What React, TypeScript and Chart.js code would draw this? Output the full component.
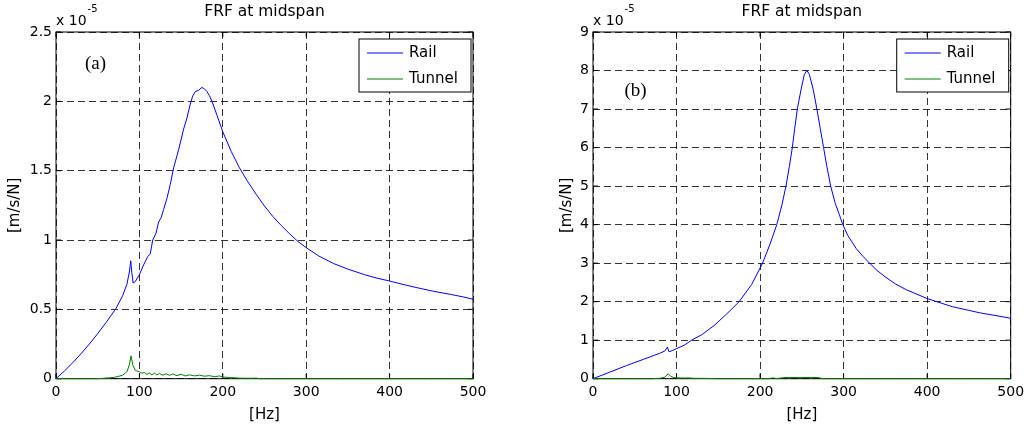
import React, { useEffect, useRef } from "react";
import { Chart, registerables } from "chart.js";
Chart.register(...registerables);

// ---------- data (values in units of 1e-5 m/s/N) ----------
const railAFreq = [0, 10, 20, 30, 40, 50, 60, 72, 80, 85, 88, 89.6, 91, 92.5, 95, 100, 105, 110, 113, 116, 120, 123, 126, 129, 133, 137, 141, 147, 153, 157, 161, 164, 167, 171, 175, 178, 181, 184, 187, 193, 200, 210, 220, 230, 240, 250, 260, 270, 280, 290, 300, 315, 333, 350, 370, 385, 400, 416, 433, 453, 473, 488, 500];
const railAVal = [0, 0.055, 0.115, 0.18, 0.25, 0.325, 0.405, 0.507, 0.6, 0.68, 0.77, 0.85, 0.76, 0.69, 0.70, 0.75, 0.82, 0.88, 0.90, 1.0, 1.05, 1.13, 1.16, 1.22, 1.30, 1.40, 1.52, 1.65, 1.80, 1.88, 1.98, 2.04, 2.07, 2.08, 2.10, 2.09, 2.07, 2.04, 2.0, 1.90, 1.78, 1.64, 1.52, 1.42, 1.33, 1.245, 1.17, 1.105, 1.045, 0.99, 0.945, 0.885, 0.83, 0.79, 0.75, 0.725, 0.704, 0.68, 0.656, 0.63, 0.608, 0.59, 0.573];

const tunnelAFreq = [0, 50, 60, 70, 80, 85, 88, 90, 92, 95, 100, 103, 106, 109, 112, 115, 118, 121, 124, 128, 132, 136, 140, 145, 150, 155, 160, 166, 172, 178, 184, 190, 196, 200, 210, 220, 230, 240, 245, 500];
const tunnelAVal = [0, 0, 0.004, 0.01, 0.025, 0.05, 0.1, 0.165, 0.1, 0.06, 0.05, 0.04, 0.045, 0.03, 0.042, 0.028, 0.04, 0.027, 0.038, 0.025, 0.036, 0.024, 0.034, 0.022, 0.032, 0.02, 0.028, 0.02, 0.026, 0.018, 0.022, 0.014, 0.02, 0.012, 0.008, 0.004, 0.003, 0.004, 0, 0];

const railBFreq = [0, 20, 40, 60, 80, 86, 89, 91, 95, 100, 110, 118, 130, 145, 160, 175, 190, 203, 212, 220, 226, 231, 235, 238.6, 241.5, 244.6, 249, 253, 256, 259, 263.7, 268, 272, 276, 280, 284.5, 290, 295, 299, 305, 315, 323, 331, 340, 350, 362, 375, 400, 430, 463, 500];
const railBVal = [0, 0.17, 0.34, 0.5, 0.66, 0.72, 0.82, 0.70, 0.73, 0.78, 0.88, 1.0, 1.14, 1.38, 1.68, 2.0, 2.45, 3.0, 3.5, 4.0, 4.5, 5.0, 5.5, 6.0, 6.5, 7.0, 7.5, 7.9, 8.0, 7.9, 7.5, 7.0, 6.5, 6.0, 5.5, 5.0, 4.55, 4.25, 4.0, 3.72, 3.38, 3.18, 3.0, 2.81, 2.64, 2.46, 2.31, 2.08, 1.87, 1.71, 1.57];

const tunnelBFreq = [0, 70, 80, 86, 90, 93, 97, 100, 105, 110, 115, 120, 130, 140, 150, 210, 215, 220, 230, 270, 275, 500];
const tunnelBVal = [0, 0, 0.01, 0.04, 0.13, 0.06, 0.03, 0.025, 0.02, 0.015, 0.02, 0.01, 0.01, 0.005, 0, 0, 0.02, 0.005, 0.03, 0.03, 0, 0];

const xTicks = [0, 100, 200, 300, 400, 500];
const yTicksA = [0, 0.5, 1, 1.5, 2, 2.5];
const yTicksB = [0, 1, 2, 3, 4, 5, 6, 7, 8, 9];
const seriesNames = ["Rail", "Tunnel"];
const seriesColors = ["#0000ff", "#008000"];
const titleText = "FRF at midspan";
const xLabelText = "[Hz]";
const yLabelText = "[m/s/N]";
const exponentBase = "x 10";
const exponentPow = "-5";
const panelLabels = ["(a)", "(b)"];

const FONT = "'DejaVu Sans', 'Liberation Sans', Arial, sans-serif";

const annotPlugin = {
  id: "annot",
  beforeDatasetsDraw(chart: any, _args: any, opts: any) {
    const { ctx, chartArea: a } = chart;
    const xs = chart.scales.x;
    const ys = chart.scales.y;
    ctx.save();
    ctx.strokeStyle = "#000";
    ctx.lineWidth = 1;
    ctx.strokeRect(a.left, a.top, a.right - a.left, a.bottom - a.top);
    ctx.beginPath();
    const tl = 5;
    xTicks.forEach((v) => {
      const p = xs.getPixelForValue(v);
      ctx.moveTo(p, a.bottom);
      ctx.lineTo(p, a.bottom - tl);
      ctx.moveTo(p, a.top);
      ctx.lineTo(p, a.top + tl);
    });
    (opts.yTicks as number[]).forEach((v) => {
      const p = ys.getPixelForValue(v);
      ctx.moveTo(a.left, p);
      ctx.lineTo(a.left + tl, p);
      ctx.moveTo(a.right, p);
      ctx.lineTo(a.right - tl, p);
    });
    ctx.stroke();
    ctx.restore();
  },
  afterDraw(chart: any, _args: any, opts: any) {
    const { ctx, chartArea: a } = chart;
    const cx = (a.left + a.right) / 2;
    ctx.save();
    ctx.fillStyle = "#000";
    // title
    ctx.font = `15.5px ${FONT}`;
    ctx.textAlign = "center";
    ctx.textBaseline = "middle";
    ctx.fillText(titleText, cx, a.top - 20);
    // exponent
    ctx.font = `14px ${FONT}`;
    ctx.textAlign = "left";
    ctx.textBaseline = "alphabetic";
    ctx.fillText(exponentBase, a.left, a.top - 7);
    const w = ctx.measureText(exponentBase).width;
    ctx.font = `10px ${FONT}`;
    ctx.fillText(exponentPow, a.left + w + 1, a.top - 20);
    // x label
    ctx.font = `15px ${FONT}`;
    ctx.textAlign = "center";
    ctx.textBaseline = "middle";
    ctx.fillText(xLabelText, cx, a.bottom + 36);
    // y label
    ctx.save();
    ctx.translate(opts.yLabelX, (a.top + a.bottom) / 2);
    ctx.rotate(-Math.PI / 2);
    ctx.fillText(yLabelText, 0, 0);
    ctx.restore();
    // panel label
    ctx.font = `19px 'Liberation Serif', 'Times New Roman', serif`;
    ctx.fillText(opts.panel, a.left + opts.panelDx, a.top + opts.panelDy);
    // legend
    const bw = 112, bh = 53;
    const bx = a.right - 2 - bw;
    const by = a.top + 7;
    ctx.fillStyle = "#fff";
    ctx.fillRect(bx, by, bw, bh);
    ctx.strokeStyle = "#000";
    ctx.lineWidth = 1;
    ctx.strokeRect(bx, by, bw, bh);
    ctx.font = `15px ${FONT}`;
    ctx.textAlign = "left";
    ctx.textBaseline = "middle";
    seriesNames.forEach((name, i) => {
      const yy = by + 14 + i * 26;
      ctx.strokeStyle = seriesColors[i];
      ctx.beginPath();
      ctx.moveTo(bx + 8, yy);
      ctx.lineTo(bx + 44, yy);
      ctx.stroke();
      ctx.fillStyle = "#000";
      ctx.fillText(name, bx + 50, yy);
    });
    ctx.restore();
  },
};

function toPoints(fs: number[], vs: number[]) {
  return fs.map((f, i) => ({ x: f, y: vs[i] }));
}

function makeConfig(p: {
  W: number; H: number; plotLeft: number; plotRight: number; plotTop: number; plotBottom: number;
  yMax: number; yTicks: number[]; rail: any[]; tunnel: any[]; panel: string; panelDx: number; panelDy: number; yLabelX: number;
}): any {
  return {
    type: "line",
    data: {
      datasets: [
        { label: seriesNames[1], data: p.tunnel, borderColor: seriesColors[1], borderWidth: 1, pointRadius: 0, tension: 0, clip: 2 },
        { label: seriesNames[0], data: p.rail, borderColor: seriesColors[0], borderWidth: 1, pointRadius: 0, tension: 0, clip: 2 },
      ],
    },
    options: {
      animation: false,
      responsive: false,
      events: [],
      layout: { padding: { left: 0, top: p.plotTop, right: p.W - p.plotRight, bottom: 0 } },
      scales: {
        x: {
          type: "linear",
          min: 0,
          max: 500,
          afterBuildTicks: (s: any) => { s.ticks = xTicks.map((v) => ({ value: v })); },
          afterFit: (s: any) => { s.height = p.H - p.plotBottom; s.paddingLeft = 0; s.paddingRight = 0; },
          ticks: { color: "#000", font: { family: FONT, size: 14 }, padding: 5, maxRotation: 0, autoSkip: false, callback: (v: any) => String(v) },
          grid: { color: "rgba(0,0,0,0.8)", lineWidth: 1, drawTicks: false },
          border: { display: false, dash: [7, 4] },
        },
        y: {
          type: "linear",
          min: 0,
          max: p.yMax,
          afterBuildTicks: (s: any) => { s.ticks = p.yTicks.map((v) => ({ value: v })); },
          afterFit: (s: any) => { s.width = p.plotLeft; },
          ticks: { color: "#000", font: { family: FONT, size: 14 }, padding: 4, autoSkip: false, callback: (v: any) => String(v) },
          grid: { color: "rgba(0,0,0,0.8)", lineWidth: 1, drawTicks: false },
          border: { display: false, dash: [7, 4] },
        },
      },
      plugins: {
        legend: { display: false },
        tooltip: { enabled: false },
        title: { display: false },
        annot: { yTicks: p.yTicks, panel: p.panel, panelDx: p.panelDx, panelDy: p.panelDy, yLabelX: p.yLabelX },
      },
    },
    plugins: [annotPlugin],
  };
}

function Panel(props: { cfg: any; left: number; W: number; H: number }) {
  const ref = useRef<HTMLCanvasElement | null>(null);
  useEffect(() => {
    if (!ref.current) return;
    const chart = new Chart(ref.current, props.cfg);
    return () => chart.destroy();
  }, []);
  return (
    <canvas
      ref={ref}
      width={props.W}
      height={props.H}
      style={{ position: "absolute", left: props.left, top: 0, width: props.W, height: props.H }}
    />
  );
}

export default function App() {
  const H = 428;
  const cfgA = makeConfig({
    W: 512, H, plotLeft: 56, plotRight: 473, plotTop: 32, plotBottom: 378.7,
    yMax: 2.5, yTicks: yTicksA, rail: toPoints(railAFreq, railAVal), tunnel: toPoints(tunnelAFreq, tunnelAVal),
    panel: panelLabels[0], panelDx: 39.5, panelDy: 32.5, yLabelX: 15,
  });
  const cfgB = makeConfig({
    W: 513, H, plotLeft: 81, plotRight: 498.7, plotTop: 32, plotBottom: 378.7,
    yMax: 9, yTicks: yTicksB, rail: toPoints(railBFreq, railBVal), tunnel: toPoints(tunnelBFreq, tunnelBVal),
    panel: panelLabels[1], panelDx: 42.5, panelDy: 59.5, yLabelX: 55,
  });
  return (
    <div style={{ position: "absolute", left: 0, top: 0, width: 1025, height: H, background: "#fff" }}>
      <Panel cfg={cfgA} left={0} W={512} H={H} />
      <Panel cfg={cfgB} left={512} W={513} H={H} />
    </div>
  );
}
